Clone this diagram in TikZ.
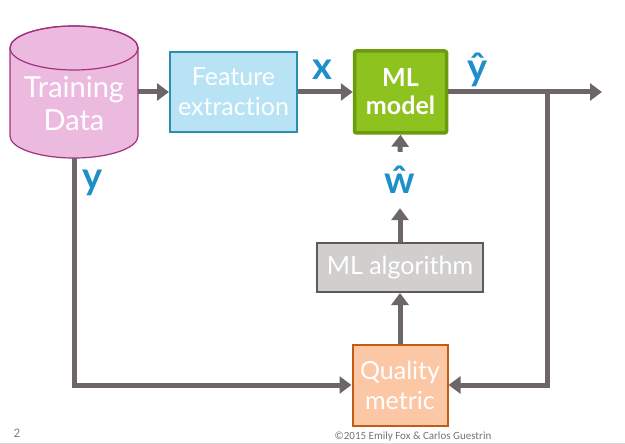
\documentclass[tikz,border=0pt]{standalone}
\usepackage{fontspec}
\setmainfont[Ligatures=NoCommon]{Lato}
\newfontfamily\footfont{Carlito}
\usetikzlibrary{arrows.meta}
\definecolor{pinkfill}{HTML}{EDBADF}
\definecolor{pinkline}{HTML}{A0327F}
\definecolor{bluefill}{HTML}{B7E3F4}
\definecolor{blueline}{HTML}{2C8DAE}
\definecolor{greenfill}{HTML}{8DC21F}
\definecolor{greenline}{HTML}{6B9B0F}
\definecolor{grayfill}{HTML}{D1CECE}
\definecolor{grayline}{HTML}{5E595A}
\definecolor{orangefill}{HTML}{FBC7A5}
\definecolor{orangeline}{HTML}{C55A11}
\definecolor{conngray}{HTML}{6D6668}
\definecolor{lblue}{HTML}{1E8FC9}
\begin{document}
\begin{tikzpicture}[x=1pt,y=-1pt,
  conn/.style={draw=conngray, line width=5pt, -{Triangle[length=12pt,width=17pt]}},
  box/.style={rectangle, inner sep=0pt, align=center, text=white, font=\fontsize{25}{30}\selectfont},
  lbl/.style={text=lblue, inner sep=0pt, font=\bfseries\fontsize{38}{40}\selectfont}]
\useasboundingbox (0,0) rectangle (625,444);
% cylinder
\path[fill=pinkfill, draw=pinkline, line width=1.2pt] (10,48) -- (10,136)
  arc[start angle=180, end angle=0, x radius=64, y radius=22] -- (138,48)
  arc[start angle=0, end angle=-180, x radius=64, y radius=22] -- cycle;
\draw[pinkline, line width=1.2pt] (74,48) ellipse [x radius=64, y radius=22];
\node[inner sep=0pt, minimum width=128pt, minimum height=132pt] (td) at (74,92) {};
\node[box, font=\fontsize{29}{33}\selectfont] (tdlabel) at (74,104) {Training\\Data};
% boxes
\node[box, fill=bluefill, draw=blueline, line width=2pt, minimum width=127pt, minimum height=80pt] (fe) at (233.5,92) {Feature\\extraction};
\node[box, fill=greenfill, draw=greenline, line width=3.5pt, rounded corners=2pt, minimum width=92pt, minimum height=82pt, font=\bfseries\fontsize{25}{28}\selectfont] (ml) at (400.5,92) {ML\\model};
\node[box, fill=grayfill, draw=grayline, line width=2pt, minimum width=166pt, minimum height=49pt] (alg) at (400,267.5) {ML algorithm};
\node[box, fill=orangefill, draw=orangeline, line width=2pt, minimum width=95pt, minimum height=81pt] (qm) at (400,385) {Quality\\metric};
% labels
\node[lbl, minimum height=56pt] (lw) at (400,180) {ŵ};
\node[lbl] (lx) at (322,70) {x};
\node[lbl] (lyhat) at (478,70) {ŷ};
\node[lbl] (ly) at (93,183) {y};
% connectors
\coordinate (split) at (547,92);
\coordinate (out) at (602,92);
\draw[conn] (td.east) -- (fe.west);
\draw[conn] (fe.east) -- (ml.west);
\draw[conn] (ml.east) -- (out);
\draw[conn] (split) |- (qm.east);
\draw[conn] (td.south) |- (qm.west);
\draw[conn] (qm.north) -- (alg.south);
\draw[conn] (alg.north) -- (lw.south);
\draw[conn] (lw.north) -- (ml.south);
% footer
\node[text=black!55, font=\footfont\fontsize{11}{13}\selectfont] (copy) at (413,437) {©2015 Emily Fox \& Carlos Guestrin};
\node[text=black!50, font=\footfont\fontsize{13}{15}\selectfont] (pnum) at (17,433) {2};
\coordinate (fl) at (0,443.5);
\coordinate (fr) at (625,443.5);
\draw[black!15, line width=1.5pt] (fl) -- (fr);
\end{tikzpicture}
\end{document}
